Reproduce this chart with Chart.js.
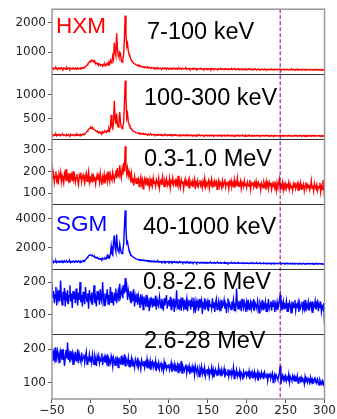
<!DOCTYPE html>
<html>
<head>
<meta charset="utf-8">
<script src="https://cdn.jsdelivr.net/npm/chart.js"></script>
<style>
  html, body { margin: 0; padding: 0; background: #fff; }
</style>
</head>
<body>
<canvas id="myChart" width="337" height="419"></canvas>
<script>
// sample times (s), 1 s bins from -50 to 300
const times = [];
for (let t = -50; t <= 300; t += 1) times.push(t);

const markerTime = 243;

// HXM 7-100 keV
const hxmLow = [
  440, 470, 420, 455, 430, 480, 445, 410, 460, 435,
  450, 425, 470, 440, 415, 465, 438, 452, 420, 475,
  430, 448, 462, 418, 455, 440, 425, 468, 445, 432,
  458, 420, 442, 470, 435, 450, 428, 460, 445, 470,
  455, 480, 470, 510, 540, 560, 600, 640, 660, 700,
  690, 730, 705, 680, 720, 650, 640, 610, 630, 580,
  570, 600, 545, 580, 560, 520, 590, 560, 600, 540,
  580, 620, 560, 650, 600, 720, 640, 700, 880, 760,
  1330, 1000, 880, 1650, 1150, 900, 820, 1000, 960, 700,
  660, 780, 900, 1500, 2250, 1600, 1200, 1300, 1050, 920,
  850, 780, 720, 680, 650, 620, 600, 590, 570, 555,
  540, 560, 520, 530, 505, 520, 495, 510, 485, 500,
  480, 495, 470, 490, 460, 485, 470, 455, 478, 462,
  450, 472, 440, 465, 455, 430, 470, 448, 438, 460,
  442, 425, 465, 450, 432, 458, 440, 420, 462, 445,
  430, 455, 438, 418, 450, 442, 460, 425, 445, 435,
  452, 420, 440, 462, 430, 448, 415, 455, 438, 426,
  445, 430, 458, 420, 440, 435, 450, 412, 442, 430,
  418, 448, 432, 455, 425, 440, 410, 438, 446, 422,
  435, 450, 418, 430, 442, 408, 436, 425, 448, 420,
  432, 415, 440, 428, 405, 445, 422, 436, 412, 430,
  440, 418, 428, 410, 438, 425, 415, 442, 420, 432,
  408, 430, 422, 440, 412, 428, 418, 435, 405, 425,
  420, 438, 410, 428, 416, 432, 402, 425, 418, 440,
  412, 426, 408, 430, 420, 405, 428, 415, 435, 410,
  418, 402, 425, 412, 430, 408, 420, 398, 422, 415,
  405, 428, 412, 400, 420, 410, 425, 402, 418, 408,
  422, 400, 415, 428, 405, 412, 395, 420, 410, 418,
  402, 415, 425, 398, 412, 405, 420, 395, 410, 418,
  400, 412, 425, 430, 395, 408, 415, 400, 420, 405,
  412, 398, 418, 405, 392, 415, 402, 410, 420, 396,
  408, 415, 395, 410, 402, 418, 392, 405, 412, 398,
  410, 395, 405, 418, 400, 390, 412, 402, 408, 395,
  405, 415, 392, 400, 410, 398, 385, 408, 400, 412,
  395, 405, 390, 410, 398, 402, 388, 405, 395, 400,
  392
];

// HXM 100-300 keV
const hxmMid = [
  165, 180, 152, 172, 160, 185, 148, 170, 158, 178,
  162, 150, 175, 168, 182, 155, 170, 160, 148, 176,
  158, 172, 165, 150, 180, 162, 155, 175, 168, 152,
  170, 160, 182, 155, 168, 175, 150, 172, 165, 180,
  168, 185, 178, 200, 220, 240, 265, 280, 300, 310,
  320, 300, 325, 290, 280, 270, 255, 240, 248, 225,
  215, 230, 205, 220, 200, 235, 210, 225, 250, 230,
  215, 260, 240, 300, 255, 330, 580, 340, 300, 420,
  870, 520, 400, 610, 380, 330, 460, 640, 420, 330,
  300, 350, 420, 800, 1290, 900, 520, 600, 430, 380,
  340, 310, 290, 270, 255, 240, 235, 225, 215, 210,
  205, 198, 210, 192, 200, 188, 195, 182, 192, 178,
  188, 175, 185, 170, 182, 168, 178, 185, 165, 175,
  170, 180, 162, 175, 168, 158, 178, 165, 172, 160,
  175, 162, 170, 155, 168, 178, 160, 165, 152, 172,
  165, 158, 175, 150, 168, 162, 155, 172, 160, 166,
  155, 170, 160, 150, 165, 172, 148, 162, 158, 168,
  152, 165, 158, 170, 148, 162, 155, 160, 145, 165,
  158, 150, 166, 155, 145, 162, 152, 168, 150, 158,
  162, 148, 155, 165, 150, 142, 160, 155, 148, 162,
  150, 158, 145, 162, 155, 148, 165, 150, 142, 158,
  152, 160, 145, 155, 162, 148, 150, 158, 140, 155,
  160, 148, 155, 142, 158, 150, 162, 145, 152, 158,
  145, 155, 160, 148, 140, 158, 152, 145, 162, 150,
  155, 142, 158, 150, 148, 162, 145, 152, 140, 158,
  150, 145, 160, 148, 155, 140, 152, 158, 145, 150,
  158, 142, 150, 155, 145, 160, 148, 140, 155, 150,
  145, 158, 150, 142, 160, 148, 152, 145, 155, 140,
  152, 148, 158, 145, 150, 142, 160, 148, 145, 155,
  150, 140, 155, 162, 148, 145, 152, 140, 158, 150,
  145, 155, 142, 150, 158, 145, 140, 155, 148, 152,
  140, 150, 158, 145, 152, 138, 155, 148, 145, 160,
  148, 142, 155, 150, 140, 158, 145, 152, 138, 150,
  155, 145, 148, 140, 158, 150, 142, 155, 145, 150,
  140, 152, 148, 158, 142, 150, 145, 138, 155, 148,
  145
];

// HXM 0.3-1.0 MeV
const hxmHigh = [
  232, 165, 190, 150, 178, 200, 158, 172, 140, 188,
  168, 195, 152, 180, 162, 145, 190, 172, 210, 155,
  178, 160, 192, 148, 170, 185, 155, 200, 165, 180,
  150, 172, 188, 158, 140, 182, 168, 195, 152, 175,
  185, 160, 145, 178, 192, 155, 170, 198, 150, 172,
  165, 180, 148, 190, 158, 175, 142, 168, 185, 160,
  178, 150, 192, 162, 138, 175, 158, 185, 145, 170,
  182, 155, 200, 165, 150, 188, 170, 160, 195, 172,
  158, 185, 205, 168, 215, 180, 175, 228, 190, 170,
  210, 185, 240, 200, 315, 230, 190, 215, 180, 200,
  175, 160, 190, 150, 168, 135, 178, 158, 145, 170,
  152, 165, 130, 158, 175, 142, 160, 120, 155, 168,
  145, 162, 138, 170, 150, 128, 165, 148, 158, 135,
  170, 145, 155, 132, 162, 150, 140, 168, 125, 152,
  160, 138, 175, 148, 130, 158, 145, 165, 135, 150,
  142, 168, 125, 155, 148, 170, 138, 152, 160, 130,
  155, 140, 180, 135, 150, 128, 162, 145, 155, 120,
  148, 165, 132, 150, 140, 158, 125, 160, 145, 138,
  155, 128, 148, 165, 118, 150, 140, 158, 132, 145,
  160, 135, 148, 125, 155, 142, 168, 130, 150, 138,
  145, 158, 122, 150, 140, 165, 135, 148, 128, 155,
  140, 152, 118, 145, 160, 132, 150, 142, 125, 158,
  135, 148, 165, 128, 145, 138, 155, 120, 150, 140,
  158, 130, 145, 135, 162, 125, 148, 140, 170, 132,
  145, 138, 155, 122, 150, 140, 128, 158, 135, 145,
  125, 152, 140, 132, 160, 118, 145, 138, 150, 128,
  148, 135, 155, 120, 142, 150, 130, 145, 115, 148,
  138, 125, 152, 140, 128, 155, 132, 145, 120, 150,
  135, 148, 118, 142, 130, 155, 125, 140, 112, 148,
  132, 145, 165, 120, 138, 128, 150, 115, 142, 130,
  145, 122, 138, 130, 150, 118, 140, 125, 135, 112,
  142, 128, 150, 120, 135, 145, 115, 138, 125, 148,
  118, 135, 128, 142, 110, 132, 150, 122, 138, 125,
  140, 115, 130, 158, 122, 135, 110, 145, 128, 120,
  138, 112, 130, 125, 148, 105, 132, 118, 160, 125,
  78
];

// SGM 40-1000 keV
const sgmLow = [
  1050, 1110, 1000, 1080, 1030, 1120, 990, 1060, 1090, 1010,
  1070, 1040, 1100, 1000, 1080, 1050, 1120, 1020, 1060, 1090,
  1010, 1080, 1040, 1110, 990, 1060, 1030, 1100, 1050, 1000,
  1090, 1040, 1070, 1020, 1110, 1060, 1000, 1080, 1040, 1100,
  1060, 1120, 1100, 1180, 1250, 1320, 1380, 1450, 1480, 1520,
  1500, 1460, 1510, 1420, 1380, 1400, 1320, 1350, 1280, 1300,
  1240, 1280, 1220, 1260, 1200, 1300, 1250, 1230, 1320, 1280,
  1250, 1480, 1300, 1420, 1350, 1560, 2100, 1600, 1500, 2460,
  2850, 2000, 1750, 2900, 2100, 1800, 1700, 2250, 1900, 1650,
  1600, 1900, 2200, 3400, 4550, 3300, 2300, 2400, 2100, 1800,
  1650, 1550, 1480, 1420, 1380, 1340, 1300, 1280, 1250, 1230,
  1210, 1180, 1200, 1160, 1180, 1140, 1170, 1130, 1150, 1120,
  1140, 1100, 1130, 1090, 1120, 1080, 1110, 1070, 1100, 1060,
  1090, 1050, 1080, 1030, 1070, 1040, 1090, 1020, 1060, 1040,
  1070, 1010, 1050, 1030, 1080, 1000, 1060, 1020, 1040, 1070,
  1000, 1050, 1020, 1060, 990, 1040, 1010, 1070, 1000, 1030,
  1050, 980, 1030, 1010, 1060, 990, 1020, 1040, 970, 1030,
  1000, 1040, 980, 1020, 1050, 970, 1010, 990, 1040, 980,
  1020, 960, 1000, 1030, 980, 1010, 950, 1020, 990, 1000,
  970, 1010, 990, 950, 1020, 980, 1000, 960, 1010, 970,
  990, 950, 1000, 970, 1010, 940, 980, 1000, 960, 990,
  950, 990, 970, 1000, 940, 980, 960, 990, 950, 970,
  980, 940, 1000, 960, 950, 990, 930, 970, 980, 950,
  960, 990, 940, 970, 950, 980, 930, 960, 990, 940,
  970, 930, 960, 980, 940, 950, 970, 920, 960, 950,
  940, 970, 920, 960, 950, 930, 980, 940, 950, 920,
  960, 930, 950, 970, 920, 950, 940, 960, 910, 950,
  940, 920, 960, 930, 950, 910, 940, 960, 920, 940,
  950, 910, 940, 930, 960, 920, 940, 910, 950, 930,
  920, 940, 960, 980, 910, 930, 950, 920, 940, 910,
  930, 950, 910, 940, 920, 900, 940, 930, 910, 950,
  920, 900, 940, 910, 930, 920, 890, 930, 940, 910,
  900, 930, 920, 940, 890, 920, 910, 930, 900, 920,
  930, 890, 920, 910, 940, 900, 920, 880, 910, 930,
  900, 920, 890, 930, 910, 900, 920, 880, 910, 900,
  890
];

// SGM 0.8-2.6 MeV
const sgmMid = [
  198, 150, 172, 135, 160, 185, 128, 165, 148, 175,
  140, 205, 155, 130, 170, 145, 182, 125, 160, 150,
  175, 132, 158, 190, 140, 165, 120, 172, 148, 160,
  135, 180, 152, 128, 168, 145, 200, 138, 160, 125,
  170, 148, 132, 185, 155, 140, 165, 118, 175, 150,
  142, 168, 130, 158, 190, 135, 150, 125, 172, 145,
  160, 130, 178, 148, 138, 200, 152, 128, 165, 140,
  155, 178, 132, 160, 145, 185, 138, 170, 150, 128,
  168, 145, 180, 135, 158, 172, 140, 195, 155, 165,
  178, 150, 190, 165, 212, 170, 185, 145, 175, 160,
  150, 172, 135, 160, 142, 178, 125, 155, 140, 165,
  130, 158, 145, 120, 162, 138, 150, 115, 155, 142,
  132, 160, 125, 148, 138, 110, 152, 135, 145, 122,
  150, 128, 140, 158, 115, 145, 132, 125, 155, 138,
  120, 148, 135, 112, 150, 128, 142, 160, 118, 138,
  145, 125, 155, 115, 140, 132, 150, 108, 138, 128,
  175, 130, 118, 148, 125, 140, 112, 152, 132, 120,
  145, 118, 135, 150, 110, 138, 128, 145, 115, 140,
  125, 152, 118, 135, 105, 142, 128, 138, 112, 148,
  120, 135, 145, 102, 132, 125, 150, 115, 138, 128,
  140, 110, 145, 125, 132, 118, 150, 122, 138, 108,
  135, 148, 115, 128, 142, 120, 135, 110, 145, 125,
  130, 145, 118, 138, 105, 132, 150, 120, 135, 128,
  115, 140, 128, 145, 112, 135, 122, 180, 130, 118,
  142, 125, 135, 110, 148, 128, 118, 140, 132, 108,
  138, 122, 145, 115, 130, 140, 118, 135, 125, 148,
  112, 135, 128, 118, 142, 125, 105, 138, 130, 120,
  145, 115, 132, 125, 140, 110, 135, 122, 148, 118,
  128, 140, 112, 135, 125, 145, 108, 132, 120, 138,
  115, 130, 145, 160, 112, 135, 122, 140, 118, 130,
  125, 142, 110, 135, 120, 138, 128, 105, 140, 118,
  132, 122, 145, 112, 130, 125, 138, 108, 135, 120,
  128, 140, 115, 132, 118, 145, 110, 130, 122, 138,
  112, 128, 135, 118, 140, 105, 130, 125, 142, 115,
  128, 138, 110, 132, 120, 140, 108, 125, 118, 135,
  68
];

// SGM 2.6-28 MeV
const sgmHigh = [
  200, 165, 188, 172, 205, 160, 182, 195, 170, 185,
  158, 192, 178, 200, 168, 185, 150, 175, 198, 172,
  220, 168, 185, 160, 195, 175, 188, 155, 180, 170,
  192, 165, 178, 200, 158, 185, 172, 162, 190, 168,
  175, 185, 160, 178, 192, 155, 172, 168, 185, 162,
  178, 160, 185, 168, 155, 182, 172, 150, 178, 165,
  180, 158, 172, 165, 188, 152, 170, 178, 160, 175,
  162, 185, 150, 172, 165, 158, 180, 168, 148, 175,
  165, 152, 178, 160, 170, 145, 175, 162, 158, 180,
  155, 170, 162, 185, 150, 172, 165, 158, 175, 148,
  168, 155, 172, 150, 165, 158, 145, 170, 160, 152,
  175, 148, 162, 155, 140, 168, 158, 150, 165, 145,
  160, 152, 170, 142, 158, 148, 165, 138, 155, 162,
  145, 158, 150, 165, 135, 155, 148, 160, 140, 152,
  158, 142, 150, 135, 162, 148, 155, 140, 150, 145,
  155, 138, 148, 160, 132, 150, 142, 155, 135, 148,
  140, 152, 130, 158, 145, 138, 165, 128, 150, 142,
  135, 148, 155, 128, 145, 138, 150, 125, 142, 135,
  148, 130, 142, 122, 150, 138, 128, 145, 135, 118,
  142, 132, 148, 125, 138, 130, 145, 120, 135, 140,
  128, 140, 118, 135, 130, 145, 122, 138, 115, 132,
  140, 125, 132, 120, 145, 128, 135, 118, 138, 125,
  130, 142, 115, 135, 128, 122, 140, 118, 132, 125,
  135, 120, 128, 145, 112, 130, 125, 138, 118, 128,
  122, 135, 115, 130, 125, 108, 132, 120, 128, 135,
  118, 128, 122, 135, 110, 125, 130, 115, 128, 120,
  132, 112, 125, 118, 130, 105, 128, 120, 115, 130,
  118, 125, 110, 130, 120, 115, 128, 105, 122, 118,
  125, 112, 120, 128, 100, 118, 125, 110, 122, 115,
  108, 120, 128, 150, 95, 115, 122, 108, 118, 112,
  120, 105, 115, 110, 125, 100, 118, 112, 105, 120,
  110, 118, 102, 115, 108, 120, 98, 112, 115, 105,
  115, 100, 112, 108, 95, 118, 105, 110, 100, 112,
  105, 98, 115, 102, 110, 95, 108, 112, 100, 106,
  98, 110, 102, 92, 108, 100, 95, 105, 98, 102,
  90
];

// tick labels per panel
const hxmLowTicks = [1000, 2000];
const hxmMidTicks = [500, 1000];
const hxmHighTicks = [100, 200, 300];
const sgmLowTicks = [2000, 4000];
const sgmMidTicks = [100, 200];
const sgmHighTicks = [100, 200];
const timeTicks = [-50, 0, 50, 100, 150, 200, 250, 300];

const RED = '#ff0000';
const BLUE = '#0000ff';

// panel layout, top to bottom
const panels = [
  { id: 'y1', values: hxmLow, ticks: hxmLowTicks, min: 250, max: 2470, color: RED,
    title: '7-100 keV', tx: 95, ty: 29.7, inst: 'HXM', iy: 23.7 },
  { id: 'y2', values: hxmMid, ticks: hxmMidTicks, min: 80, max: 1420, color: RED,
    title: '100-300 keV', tx: 92, ty: 30.7 },
  { id: 'y3', values: hxmHigh, ticks: hxmHighTicks, min: 50, max: 348, color: RED,
    title: '0.3-1.0 MeV', tx: 92, ty: 27.3 },
  { id: 'y4', values: sgmLow, ticks: sgmLowTicks, min: 550, max: 4980, color: BLUE,
    title: '40-1000 keV', tx: 91, ty: 30, inst: 'SGM', iy: 27 },
  { id: 'y5', values: sgmMid, ticks: sgmMidTicks, min: 40, max: 240, color: BLUE,
    title: '0.8-2.6 MeV', tx: 91, ty: 19.7 },
  { id: 'y6', values: sgmHigh, ticks: sgmHighTicks, min: 50, max: 246, color: BLUE,
    title: '2.6-28 MeV', tx: 92, ty: 13.8 },
];

const tickFont = { family: 'DejaVu Sans', size: 12 };

const scales = {
  x: {
    type: 'linear',
    min: -50,
    max: 300,
    afterBuildTicks: (s) => { s.ticks = timeTicks.map(v => ({ value: v })); },
    afterFit: (s) => { s.height = 20; },
    ticks: {
      font: tickFont,
      color: '#262626',
      padding: 1,
      maxRotation: 0,
      autoSkip: false,
      callback: (v) => String(v).replace('-', '\u2212'),
    },
    grid: { display: true, drawOnChartArea: false, tickLength: 4, color: '#555' },
    border: { display: false },
  },
};

panels.forEach((p, i) => {
  scales[p.id] = {
    type: 'linear',
    position: 'left',
    stack: 'panels',
    stackWeight: 1,
    weight: panels.length - i,
    min: p.min,
    max: p.max,
    afterBuildTicks: (s) => { s.ticks = p.ticks.map(v => ({ value: v })); },
    afterFit: (s) => { s.width = 52; },
    ticks: {
      font: tickFont,
      color: '#262626',
      padding: 2,
      autoSkip: false,
      callback: (v) => String(v),
    },
    grid: { display: true, drawOnChartArea: false, tickLength: 4, color: '#555' },
    border: { display: false },
  };
});

const datasets = panels.map(p => ({
  data: times.map((t, i) => ({ x: t, y: p.values[i] })),
  yAxisID: p.id,
  xAxisID: 'x',
  borderColor: p.color,
  borderWidth: 1.4,
  pointRadius: 0,
  tension: 0,
  fill: false,
}));

// frames, titles and the dashed marker
const panelDecor = {
  id: 'panelDecor',
  afterDatasetsDraw(chart) {
    const { ctx, chartArea: { left, right, top, bottom }, scales } = chart;
    ctx.save();

    const mx = scales.x.getPixelForValue(markerTime);
    ctx.strokeStyle = '#800080';
    ctx.lineWidth = 1;
    ctx.setLineDash([4, 2]);
    ctx.beginPath();
    ctx.moveTo(mx, top);
    ctx.lineTo(mx, bottom);
    ctx.stroke();
    ctx.setLineDash([]);

    ctx.textBaseline = 'alphabetic';
    ctx.textAlign = 'left';
    panels.forEach((p, i) => {
      const s = scales[p.id];
      if (i > 0) {
        ctx.strokeStyle = '#333';
        ctx.lineWidth = 1;
        ctx.beginPath();
        ctx.moveTo(left, Math.round(s.top) + 0.5);
        ctx.lineTo(right, Math.round(s.top) + 0.5);
        ctx.stroke();
      }
      ctx.font = '23.5px "Liberation Sans"';
      ctx.fillStyle = '#000';
      ctx.fillText(p.title, left + p.tx, s.top + p.ty);
      if (p.inst) {
        ctx.font = '22.5px "Liberation Sans"';
        ctx.fillStyle = p.color;
        ctx.fillText(p.inst, left + 4, s.top + p.iy);
      }
    });

    ctx.strokeStyle = '#999';
    ctx.lineWidth = 1.5;
    ctx.strokeRect(left, top, right - left, bottom - top);
    ctx.restore();
  },
};

const config = {
  type: 'line',
  data: { datasets },
  options: {
    responsive: false,
    animation: false,
    layout: { padding: { top: 7, right: 9, left: 0, bottom: 0 }, autoPadding: false },
    scales,
    plugins: {
      legend: { display: false },
      tooltip: { enabled: false },
    },
  },
  plugins: [panelDecor],
};

const myChart = new Chart(document.getElementById('myChart'), config);
</script>
</body>
</html>
